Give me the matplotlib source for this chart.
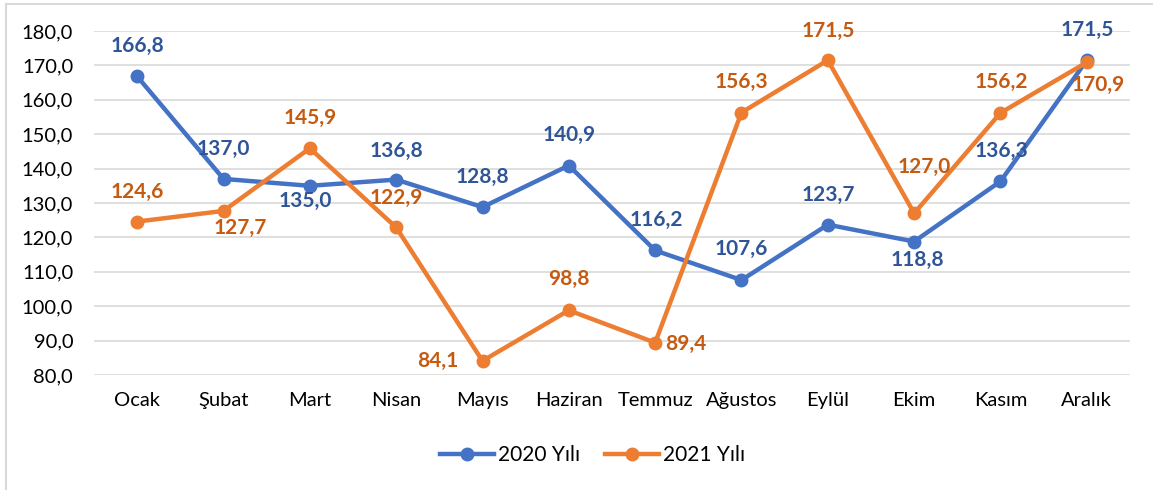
import matplotlib
matplotlib.use("Agg")
import matplotlib.pyplot as plt
from matplotlib.lines import Line2D
from matplotlib.ticker import FuncFormatter

months = ["Ocak", "Şubat", "Mart", "Nisan", "Mayıs", "Haziran",
          "Temmuz", "Ağustos", "Eylül", "Ekim", "Kasım", "Aralık"]
values_2020 = [166.8, 137.0, 135.0, 136.8, 128.8, 140.9,
               116.2, 107.6, 123.7, 118.8, 136.3, 171.5]
values_2021 = [124.6, 127.7, 145.9, 122.9, 84.1, 98.8,
               89.4, 156.3, 171.5, 127.0, 156.2, 170.9]

# label offsets in pixels (dx, dy)
offsets_2020 = [(0, 30), (0, 30), (-5, -15), (0, 29), (0, 30), (0, 31),
                (1, 31), (0, 31), (0, 30), (3, -18), (1, 30), (0, 30)]
offsets_2021 = [(0, 30), (17, -17), (0, 30), (0, 29), (-45, 0), (0, 31),
                (31, -1), (0, 31), (0, 29), (10, 46), (1, 31), (11, -23)]

BLUE = "#4472C4"
BLUE_TXT = "#2F5597"
ORANGE = "#ED7D31"
ORANGE_TXT = "#C55A11"
GRID = "#D9D9D9"

plt.rcParams["font.family"] = ["Lato", "DejaVu Sans"]


def fmt(v):
    return f"{v:.1f}".replace(".", ",")


fig = plt.figure(figsize=(11.53, 4.9), dpi=100)
ax = fig.add_axes([94 / 1153, 1 - 375 / 490, (1130 - 94) / 1153, (375 - 31) / 490])

x = list(range(len(months)))
ax.plot(x, values_2020, color=BLUE, lw=3.2, marker="o", ms=9,
        label="2020 Yılı", zorder=3, solid_joinstyle="round")
ax.plot(x, values_2021, color=ORANGE, lw=3.2, marker="o", ms=9,
        label="2021 Yılı", zorder=4, solid_joinstyle="round")

for xi, v, (dx, dy) in zip(x, values_2020, offsets_2020):
    ax.annotate(fmt(v), (xi, v), xytext=(dx, dy), textcoords="offset pixels",
                ha="center", va="center", fontsize=15, fontweight="bold",
                color=BLUE_TXT, zorder=6)
for xi, v, (dx, dy) in zip(x, values_2021, offsets_2021):
    ax.annotate(fmt(v), (xi, v), xytext=(dx, dy), textcoords="offset pixels",
                ha="center", va="center", fontsize=15, fontweight="bold",
                color=ORANGE_TXT, zorder=6)

ax.set_xlim(-0.5, len(months) - 0.5)
ax.set_ylim(80, 180)
ax.set_yticks(range(80, 181, 10))
ax.yaxis.set_major_formatter(FuncFormatter(lambda v, _: fmt(v)))
ax.set_xticks(x)
ax.set_xticklabels(months)
ax.tick_params(axis="both", length=0, labelsize=14.5, colors="#000000")
ax.tick_params(axis="y", pad=15)
ax.tick_params(axis="x", pad=12)
ax.grid(axis="y", color=GRID, lw=1.2, zorder=0)
ax.set_axisbelow(True)
for s in ax.spines.values():
    s.set_visible(False)

fig.legend(loc="center", bbox_to_anchor=(0.514, 1 - 455 / 490), ncol=2,
           frameon=False, fontsize=15, handlelength=2.6, columnspacing=1.2,
           handletextpad=0.2)

# outer chart border (left and top visible)
fig.add_artist(Line2D([6 / 1153, 6 / 1153], [0, 1 - 4 / 490],
                      transform=fig.transFigure, color=GRID, lw=1.5))
fig.add_artist(Line2D([6 / 1153, 1], [1 - 4 / 490, 1 - 4 / 490],
                      transform=fig.transFigure, color=GRID, lw=1.5))

fig.savefig("out.png", dpi=100, facecolor="white")
